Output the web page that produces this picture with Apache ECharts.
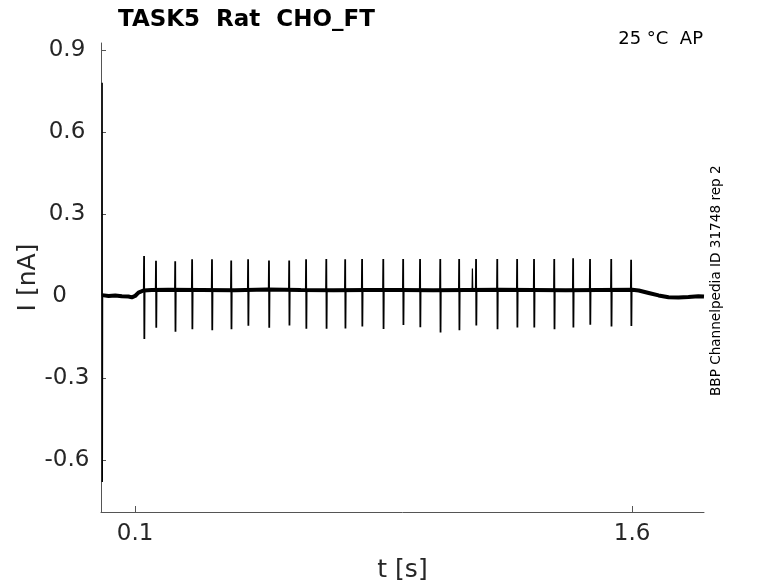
<!DOCTYPE html>
<html>
<head>
<meta charset="utf-8">
<script src="https://cdn.jsdelivr.net/npm/echarts@6/dist/echarts.min.js"></script>
<style>
html, body { margin: 0; padding: 0; background: #fff; }
#container { width: 778px; height: 583px; }
</style>
</head>
<body>
<div id="container"></div>
<script>
var dom = document.getElementById("container");
var myChart = echarts.init(dom);

// spike times [s] and their up / down peaks [nA]
var spikeTimes = [0.127, 0.163, 0.221, 0.272, 0.332, 0.390, 0.441, 0.504, 0.565, 0.616,
    0.677, 0.734, 0.785, 0.849, 0.909, 0.960, 1.021, 1.078, 1.129, 1.193,
    1.253, 1.304, 1.365, 1.422, 1.473, 1.537, 1.597];
var spikeUp = [0.146, 0.129, 0.127, 0.134, 0.134, 0.130, 0.134, 0.130, 0.130, 0.134,
    0.135, 0.134, 0.135, 0.135, 0.135, 0.135, 0.135, 0.135, 0.135, 0.135,
    0.135, 0.135, 0.135, 0.138, 0.135, 0.135, 0.132];
var spikeDown = [-0.157, -0.116, -0.131, -0.122, -0.125, -0.122, -0.109, -0.116, -0.108, -0.120,
    -0.120, -0.119, -0.112, -0.121, -0.106, -0.114, -0.134, -0.125, -0.108, -0.122,
    -0.115, -0.115, -0.122, -0.115, -0.105, -0.112, -0.110];

// small extra spike riding on the baseline
var smallSpike = [[1.117, 0.022], [1.118, 0.10], [1.119, 0.022]];

// baseline current (time, value)
var baseTimes = [0.0, 0.02, 0.04, 0.06, 0.08, 0.09, 0.1, 0.11, 0.125, 0.15, 0.2, 0.3, 0.4, 0.5,
    0.6, 0.7, 0.8, 0.9, 1.0, 1.1, 1.2, 1.3, 1.4, 1.5, 1.6, 1.62, 1.65, 1.68, 1.71, 1.74, 1.77, 1.8, 1.817];
var baseValues = [0.003, 0.0, 0.002, -0.001, -0.002, -0.005, 0.0, 0.012, 0.02, 0.022, 0.023, 0.022, 0.021, 0.024,
    0.022, 0.021, 0.022, 0.022, 0.021, 0.022, 0.023, 0.022, 0.021, 0.022, 0.023, 0.02, 0.011, 0.002, -0.005, -0.006, -0.004, -0.001, -0.002];

// capacitive transient at t = 0
var transient = [[0.0, 0.0], [0.0004, 0.78], [0.0008, -0.68], [0.0015, 0.0]];

var yTicks = [-0.6, -0.3, 0, 0.3, 0.6, 0.9];
var xTicks = [0.1, 1.6];

var baseline = baseTimes.map(function (t, i) { return [t, baseValues[i]]; });

var spikes = [];
spikeTimes.forEach(function (t, i) {
    spikes.push([t - 0.0008, 0.022]);
    spikes.push([t, spikeUp[i]]);
    spikes.push([t + 0.0008, spikeDown[i]]);
    spikes.push([t + 0.0016, 0.022]);
    spikes.push([t + 0.0017, '-']);
});

var font = 'DejaVu Sans';

option = {
    animation: false,
    title: {
        text: 'TASK5  Rat  CHO_FT',
        left: 113,
        top: 4,
        textStyle: { fontFamily: font, fontSize: 23, fontWeight: 'bold', color: '#000' }
    },
    grid: { left: 101, right: 74, top: 43, bottom: 71, containLabel: false, outerBoundsMode: 'none' },
    xAxis: {
        type: 'value',
        min: -0.003,
        max: 1.817,
        name: 't [s]',
        nameLocation: 'middle',
        nameGap: 46,
        nameTextStyle: { fontFamily: font, fontSize: 25, color: '#262626' },
        axisLine: { onZero: false, lineStyle: { color: '#555', width: 1 } },
        axisTick: { inside: true, length: 6, customValues: xTicks, lineStyle: { color: '#555' } },
        axisLabel: { customValues: xTicks, fontFamily: font, fontSize: 23, color: '#262626', margin: 11 },
        splitLine: { show: false }
    },
    yAxis: {
        type: 'value',
        min: -0.79,
        max: 0.925,
        name: 'I [nA]',
        nameLocation: 'middle',
        nameRotate: 90,
        nameGap: 60,
        nameMoveOverlap: false,
        nameTextStyle: { fontFamily: font, fontSize: 25, color: '#262626' },
        axisLine: { show: true, onZero: false, lineStyle: { color: '#555', width: 1 } },
        axisTick: { show: true, inside: true, length: 5, customValues: yTicks, lineStyle: { color: '#555' } },
        axisLabel: {
            customValues: yTicks, fontFamily: font, fontSize: 23, color: '#262626',
            margin: 34, align: 'center',
            formatter: function (v) { return v === 0 ? '0\u00a0\u00a0' : v.toFixed(1); }
        },
        splitLine: { show: false }
    },
    graphic: [
        {
            type: 'text',
            right: 75,
            top: 30,
            style: { text: '25 °C  AP', font: '18px "DejaVu Sans"', fill: '#000' }
        },
        {
            type: 'text',
            x: 709,
            y: 396,
            rotation: Math.PI / 2,
            style: { text: 'BBP Channelpedia ID 31748 rep 2', font: '13.6px "DejaVu Sans"', fill: '#000' }
        }
    ],
    series: [
        {
            type: 'line',
            data: baseline,
            showSymbol: false,
            lineStyle: { color: '#000', width: 4 },
            z: 2
        },
        {
            type: 'line',
            data: spikes,
            showSymbol: false,
            connectNulls: false,
            lineStyle: { color: '#000', width: 1.8 },
            z: 3
        },
        {
            type: 'line',
            data: transient,
            showSymbol: false,
            lineStyle: { color: '#000', width: 1.5 },
            z: 3
        },
        {
            type: 'line',
            data: smallSpike,
            showSymbol: false,
            lineStyle: { color: '#000', width: 1.2 },
            z: 3
        }
    ]
};

if (option && typeof option === "object") {
    myChart.setOption(option, false);
}
</script>
</body>
</html>
